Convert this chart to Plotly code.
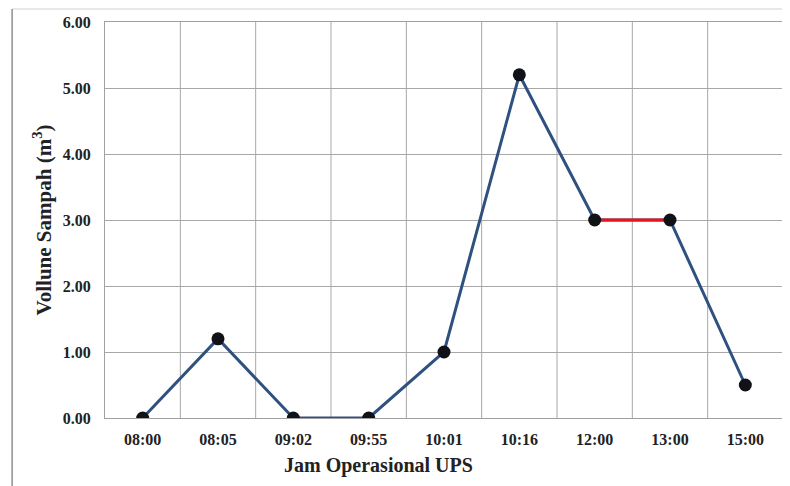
import plotly.graph_objects as go

times = ["08:00", "08:05", "09:02", "09:55", "10:01", "10:16", "12:00", "13:00", "15:00"]
volume = [0.0, 1.2, 0.0, 0.0, 1.0, 5.2, 3.0, 3.0, 0.5]
y_ticks = [0, 1, 2, 3, 4, 5, 6]

font_family = "Liberation Serif"

fig = go.Figure()
fig.add_trace(go.Scatter(
    x=times, y=volume, mode="lines",
    line=dict(color="#2f5180", width=3), showlegend=False, hoverinfo="skip"))
fig.add_trace(go.Scatter(
    x=times[6:8], y=volume[6:8], mode="lines",
    line=dict(color="#e8141b", width=3), showlegend=False, hoverinfo="skip"))
fig.add_trace(go.Scatter(
    x=times, y=volume, mode="markers",
    marker=dict(color="#101218", size=13), showlegend=False))

fig.update_layout(
    width=782, height=478,
    margin=dict(l=97, r=7, t=14, b=68),
    paper_bgcolor="white", plot_bgcolor="white",
    font=dict(family=font_family, color="#222222"),
    xaxis=dict(
        type="category", range=[-0.5, 8.5],
        showgrid=False, tickfont=dict(size=16, family=font_family, weight="bold"),
        ticks="", ticklabelstandoff=7,
        showline=True, linecolor="#a0a0a0", linewidth=1, mirror=True,
    ),
    yaxis=dict(
        range=[0, 6], tickvals=y_ticks, tickformat=".2f",
        showgrid=True, gridcolor="#a8a8a8", gridwidth=1,
        tickfont=dict(size=16, family=font_family, weight="bold"),
        ticks="", ticklabelstandoff=10,
        showline=True, linecolor="#a0a0a0", linewidth=1, mirror=True,
        zeroline=False,
        title=dict(text="Vollune Sampah (m<sup>3</sup>)",
                   font=dict(size=21, family=font_family, weight="bold"), standoff=5),
    ),
)

# vertical grid lines at category boundaries
for i in range(1, len(times)):
    fig.add_shape(type="line", xref="x", yref="paper", x0=i - 0.5, x1=i - 0.5, y0=0, y1=1,
                  line=dict(color="#a8a8a8", width=1), layer="below")

fig.add_annotation(text="<b>Jam Operasional UPS</b>", xref="paper", yref="paper",
                   x=0.404, y=-0.121, showarrow=False, yanchor="middle",
                   font=dict(size=20, family=font_family, color="#222222"))

# outer page frame lines
fig.add_shape(type="line", xref="paper", yref="paper", x0=-0.137, x1=1.01, y0=1.033, y1=1.033,
              line=dict(color="#e0e0e0", width=1.5))
fig.add_shape(type="line", xref="paper", yref="paper", x0=-0.137, x1=-0.137, y0=1.033, y1=-0.172,
              line=dict(color="#909090", width=1.5))

fig.write_html("out.html")
